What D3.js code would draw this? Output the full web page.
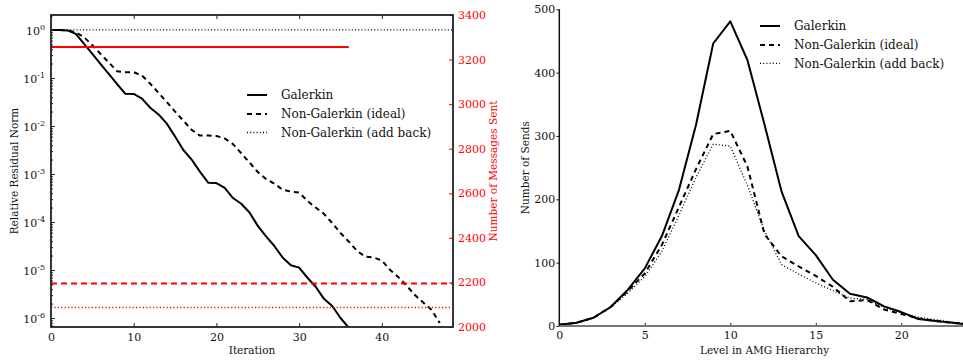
<!DOCTYPE html>
<html><head><meta charset="utf-8">
<script src="https://cdn.jsdelivr.net/npm/d3@7"></script>
<style>
body{margin:0;background:#fff}
svg{display:block;background:#fff}
text{font-family:"DejaVu Serif",serif}
</style>
</head><body>
<svg id="c" width="963" height="360"></svg>
<script>
// ---------- Left chart data ----------
const galerkinIter = [0,1,2,3,4,5,6,7,8,9,10,11,12,13,14,15,16,17,18,19,20,21,22,23,24,25,26,27,28,29,30,31,32,33,34,35,36];
const galerkinResid = [1.0,1.0,0.98,0.83,0.513,0.316,0.195,0.120,0.0741,0.0468,0.0466,0.0372,0.0240,0.0174,0.0112,0.00603,0.00316,0.00200,0.00112,6.6e-4,6.46e-4,5.13e-4,3.16e-4,2.4e-4,1.58e-4,8.3e-5,5.0e-5,3.16e-5,1.82e-5,1.26e-5,1.12e-5,6.9e-6,4.47e-6,2.51e-6,1.78e-6,1.0e-6,6.3e-7];
const idealIter = [0,1,2,3,4,5,6,7,8,9,10,11,12,13,14,15,16,17,18,19,20,21,22,23,24,25,26,27,28,29,30,31,32,33,34,35,36,37,38,39,40,41,42,43,44,45,46,47];
const idealResid = [1.0,1.0,0.98,0.89,0.71,0.48,0.316,0.209,0.138,0.132,0.132,0.112,0.0759,0.049,0.0316,0.020,0.0129,0.0083,0.0063,0.0063,0.0062,0.0055,0.0042,0.0027,0.00174,0.0011,7.9e-4,6.3e-4,4.7e-4,4.3e-4,4.1e-4,2.75e-4,2.0e-4,1.48e-4,9.5e-5,5.9e-5,3.9e-5,2.5e-5,1.9e-5,1.82e-5,1.58e-5,1.0e-5,7.1e-6,4.7e-6,3.0e-6,2.1e-6,1.48e-6,7.9e-7];
const addBackIter = [0,49];
const addBackResid = [1.0,1.0];
// messages sent (right axis), constant per method, over its iteration span
const galerkinMsgIter = [0,36];
const galerkinMsgs = [3256,3256];
const idealMsgIter = [0,49];
const idealMsgs = [2195,2195];
const addBackMsgIter = [0,49];
const addBackMsgs = [2087,2087];
const iterTicks = [0,10,20,30,40];
const residExpTicks = [0,-1,-2,-3,-4,-5,-6];
const msgTicks = [2000,2200,2400,2600,2800,3000,3200,3400];

// ---------- Right chart data ----------
const levels = [0,1,2,3,4,5,6,7,8,9,10,11,12,13,14,15,16,17,18,19,20,21,22,23,24];
const galerkinSends = [2,5,13,30,57,91,142,215,318,446,481,420,318,212,142,112,73,51,45,31,22,11,8,5,2];
const idealSends    = [2,5,13,30,55,83,128,188,248,303,308,252,145,110,94,79,62,39,41,26,19,12,8,5,3];
const addBackSends  = [2,5,13,29,52,78,118,175,235,287,284,222,150,97,82,68,56,44,42,29,21,14,10,6,3];
const levelTicks = [0,5,10,15,20];
const sendTicks = [0,100,200,300,400,500];

const legendLabels = ["Galerkin","Non-Galerkin (ideal)","Non-Galerkin (add back)"];

const styles = {
  solid:  {dash:null, w:2},
  dashed: {dash:"5,4", w:2},
  dotted: {dash:"1,2.2", w:1.3}
};

const svg = d3.select("#c");

// ================= LEFT CHART =================
const L = {x0:51, x1:453, y0:15, y1:327};
const x = d3.scaleLinear().domain([0,48.6]).range([L.x0,L.x1]);
const y = d3.scaleLog().domain([6.5e-7,2.05]).range([L.y1,L.y0]);
const yR = d3.scaleLinear().domain([2000,3400]).range([L.y1,L.y0]);

svg.append("clipPath").attr("id","clipL").append("rect")
  .attr("x",L.x0).attr("y",L.y0).attr("width",L.x1-L.x0).attr("height",L.y1-L.y0);

const gL = svg.append("g").attr("clip-path","url(#clipL)");
const lineL = (xs,ys,sc)=>d3.line().x((d,i)=>x(xs[i])).y((d,i)=>sc(ys[i]))(ys);

function drawLine(g, path, color, st){
  g.append("path").attr("d",path).attr("fill","none").attr("stroke",color)
    .attr("stroke-width",st.w).attr("stroke-dasharray",st.dash)
    .attr("stroke-linejoin","round");
}
drawLine(gL, lineL(addBackIter,addBackResid,y), "#000", styles.dotted);
drawLine(gL, lineL(idealIter,idealResid,y), "#000", styles.dashed);
drawLine(gL, lineL(galerkinIter,galerkinResid,y), "#000", styles.solid);
drawLine(gL, lineL(galerkinMsgIter,galerkinMsgs,yR), "#ff0000", {dash:null,w:2});
drawLine(gL, lineL(idealMsgIter,idealMsgs,yR), "#ff0000", {dash:"6,4",w:2});
drawLine(gL, lineL(addBackMsgIter,addBackMsgs,yR), "#ff0000", {dash:"1.2,2.2",w:1.5});

// axes
const axB = svg.append("g").attr("transform",`translate(0,${L.y1})`)
  .call(d3.axisBottom(x).tickValues(iterTicks).tickSize(-4).tickPadding(6).tickFormat(d3.format("d")));
const axT = svg.append("g").attr("transform",`translate(0,${L.y0})`)
  .call(d3.axisTop(x).tickValues(iterTicks).tickSize(-4).tickFormat(""));
const majorVals = residExpTicks.map(e=>Math.pow(10,e));
const minorVals = y.ticks().filter(v=>Math.abs(Math.log10(v)-Math.round(Math.log10(v)))>1e-6);
const axLmin = svg.append("g").attr("transform",`translate(${L.x0},0)`)
  .call(d3.axisLeft(y).tickValues(minorVals).tickSize(-2).tickFormat(""));
const axL = svg.append("g").attr("transform",`translate(${L.x0},0)`)
  .call(d3.axisLeft(y).tickValues(majorVals).tickSize(-4).tickPadding(6).tickFormat(""));
axL.selectAll(".tick text").each(function(d){
  const t = d3.select(this);
  const e = Math.round(Math.log10(d));
  t.append("tspan").text("10").attr("font-size",11);
  t.append("tspan").text(e).attr("font-size",8).attr("dy",-5);
});
const axR = svg.append("g").attr("transform",`translate(${L.x1},0)`)
  .call(d3.axisRight(yR).tickValues(msgTicks).tickSize(-4).tickPadding(5).tickFormat(d3.format("d")));
[axB,axT,axLmin,axL,axR].forEach(a=>{
  a.select(".domain").remove();
  a.selectAll(".tick line").attr("stroke","#222").attr("stroke-width",1);
  a.selectAll("text").attr("font-family","DejaVu Serif").attr("font-size",11).style("fill","#111");
});
axL.selectAll(".tick text").attr("dy","0.45em");
axR.selectAll(".tick line").attr("stroke","#ff0000");
axR.selectAll(".tick text").style("fill","#ff0000");

svg.append("rect").attr("x",L.x0).attr("y",L.y0).attr("width",L.x1-L.x0).attr("height",L.y1-L.y0)
  .attr("fill","none").attr("stroke","#222").attr("stroke-width",1.8);

svg.append("text").attr("x",(L.x0+L.x1)/2).attr("y",354).attr("text-anchor","middle")
  .attr("font-size",10.5).style("fill","#111").text("Iteration");
svg.append("text").attr("transform",`translate(18,${(L.y0+L.y1)/2}) rotate(-90)`).attr("text-anchor","middle")
  .attr("font-size",10.5).style("fill","#111").text("Relative Residual Norm");
svg.append("text").attr("transform",`translate(497,${(L.y0+L.y1)/2}) rotate(-90)`).attr("text-anchor","middle")
  .attr("font-size",10.5).style("fill","#ff0000").text("Number of Messages Sent");

function legend(x0,x1,tx,ys){
  const sts=[styles.solid,styles.dashed,styles.dotted];
  legendLabels.forEach((lab,i)=>{
    svg.append("line").attr("x1",x0).attr("x2",x1).attr("y1",ys[i]).attr("y2",ys[i])
      .attr("stroke","#000").attr("stroke-width",sts[i].w).attr("stroke-dasharray",sts[i].dash);
    svg.append("text").attr("x",tx).attr("y",ys[i]).attr("dy","0.35em").attr("font-size",12)
      .style("fill","#111").text(lab);
  });
}
legend(247,267,281,[95,114,132.5]);

// ================= RIGHT CHART =================
const R = {x0:559.3, x1:969.7, y0:9.3, y1:326};
const x2 = d3.scaleLinear().domain([0,24]).range([R.x0,R.x1]);
const y2 = d3.scaleLinear().domain([0,500]).range([R.y1,R.y0]);
const line2 = ys=>d3.line().x((d,i)=>x2(levels[i])).y(d=>y2(d))(ys);
const gR = svg.append("g");
drawLine(gR, line2(addBackSends), "#000", styles.dotted);
drawLine(gR, line2(idealSends), "#000", styles.dashed);
drawLine(gR, line2(galerkinSends), "#000", styles.solid);

const ax2B = svg.append("g").attr("transform",`translate(0,${R.y1})`)
  .call(d3.axisBottom(x2).tickValues(levelTicks).tickSize(-3).tickPadding(5).tickFormat(d3.format("d")));
const ax2L = svg.append("g").attr("transform",`translate(${R.x0},0)`)
  .call(d3.axisLeft(y2).tickValues(sendTicks).tickSize(3).tickPadding(1).tickFormat(d3.format("d")));
[ax2B,ax2L].forEach(a=>{
  a.select(".domain").remove();
  a.selectAll(".tick line").attr("stroke","#222").attr("stroke-width",1);
  a.selectAll("text").attr("font-family","DejaVu Serif").attr("font-size",11).style("fill","#111");
});
svg.append("line").attr("x1",R.x0).attr("x2",R.x1).attr("y1",R.y1).attr("y2",R.y1)
  .attr("stroke","#777").attr("stroke-width",2);
svg.append("line").attr("x1",R.x0).attr("x2",R.x0).attr("y1",R.y0).attr("y2",R.y1)
  .attr("stroke","#111").attr("stroke-width",1.5);

svg.append("text").attr("x",(R.x0+R.x1)/2).attr("y",354).attr("text-anchor","middle")
  .attr("font-size",10.5).style("fill","#111").text("Level in AMG Hierarchy");
svg.append("text").attr("transform",`translate(529,${(R.y0+R.y1)/2}) rotate(-90)`).attr("text-anchor","middle")
  .attr("font-size",10.5).style("fill","#111").text("Number of Sends");
legend(760,780,794,[26,45,63.3]);
</script>
</body></html>
